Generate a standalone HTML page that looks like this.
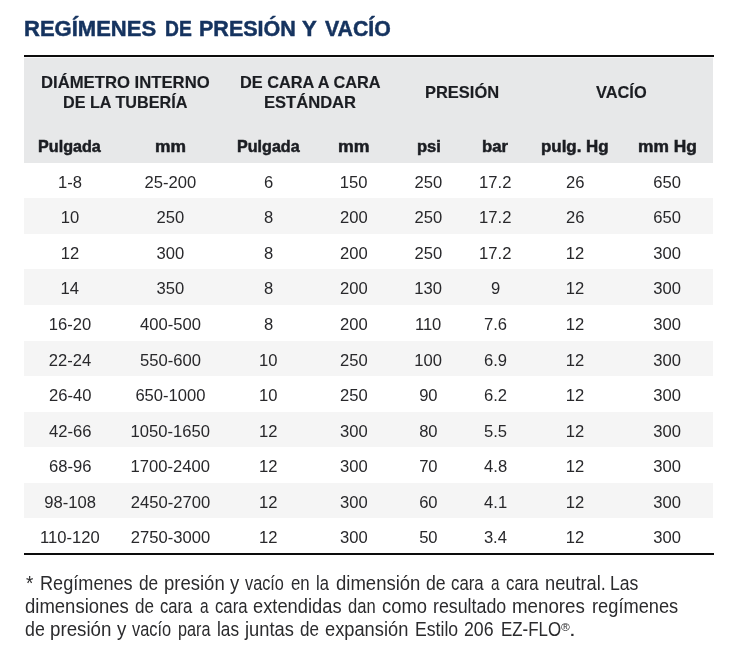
<!DOCTYPE html>
<html lang="es"><head><meta charset="utf-8"><title>Regímenes de presión y vacío</title>
<style>
html,body{margin:0;padding:0;background:#fff;}
body{width:750px;height:651px;position:relative;overflow:hidden;font-family:"Liberation Sans",Arial,sans-serif;color:#222;}
.topline{position:absolute;left:24px;top:55px;width:690px;height:2px;background:#0c0c0c;}
.botline{position:absolute;left:24px;top:553px;width:690px;height:2px;background:#0c0c0c;}
.hdr{position:absolute;left:24px;top:57px;width:689px;height:105px;background:#e7e8e9;border-top:1px solid #f6f6f7;}
.row{position:absolute;left:24px;width:689px;}
.alt{background:#f5f5f5;}
.f{position:absolute;white-space:nowrap;transform-origin:0 0;margin:0;}
.t{font-weight:bold;font-size:22.0px;line-height:28px;color:#15335f;-webkit-text-stroke:0.5px #15335f;}
.g{font-weight:bold;font-size:15.9px;line-height:20px;color:#1b1d22;-webkit-text-stroke:0.15px #1b1d22;}
.s{font-weight:bold;font-size:16.2px;line-height:20px;color:#1b1d22;-webkit-text-stroke:0.5px #1b1d22;}
.n{font-size:19.3px;line-height:23px;color:#2b2b2d;}
.r{font-size:11.2px;line-height:12px;color:#2b2b2d;}
.d{font-size:16.6px;line-height:20px;color:#28282b;}
</style></head><body>
<div class="topline"></div>
<div class="hdr"></div>
<div class="row" style="top:163px;height:35px"></div>
<div class="row alt" style="top:198px;height:36px"></div>
<div class="row" style="top:234px;height:35px"></div>
<div class="row alt" style="top:269px;height:36px"></div>
<div class="row" style="top:305px;height:36px"></div>
<div class="row alt" style="top:341px;height:35px"></div>
<div class="row" style="top:376px;height:36px"></div>
<div class="row alt" style="top:412px;height:35px"></div>
<div class="row" style="top:447px;height:36px"></div>
<div class="row alt" style="top:483px;height:35px"></div>
<div class="row" style="top:518px;height:35px"></div>
<div class="botline"></div>
<h1 style="margin:0;font-size:inherit;font-weight:inherit">
<span class="f t" style="left:24.35px;top:14.55px;transform:scaleX(1.0004)">REGÍMENES</span>
<span class="f t" style="left:164.60px;top:14.55px;transform:scaleX(0.8765)">DE</span>
<span class="f t" style="left:199.08px;top:14.55px;transform:scaleX(0.9782)">PRESIÓN</span>
<span class="f t" style="left:302.40px;top:14.55px;transform:scaleX(1.0069)">Y</span>
<span class="f t" style="left:325.00px;top:14.55px;transform:scaleX(0.9665)">VACÍO</span>
</h1>
<div class="f g" style="left:40.85px;top:73.00px;transform:scaleX(1.0497)">DIÁMETRO INTERNO</div>
<div class="f g" style="left:62.68px;top:92.90px;transform:scaleX(1.0186)">DE LA TUBERÍA</div>
<div class="f g" style="left:239.77px;top:73.00px;transform:scaleX(1.0273)">DE CARA A CARA</div>
<div class="f g" style="left:264.26px;top:92.90px;transform:scaleX(1.0425)">ESTÁNDAR</div>
<div class="f g" style="left:425.26px;top:82.90px;transform:scaleX(1.0360)">PRESIÓN</div>
<div class="f g" style="left:596.00px;top:82.90px;transform:scaleX(1.0309)">VACÍO</div>
<div class="f s" style="left:37.95px;top:136.35px;transform:scaleX(0.9984)">Pulgada</div>
<div class="f s" style="left:155.19px;top:136.35px;transform:scaleX(1.0752)">mm</div>
<div class="f s" style="left:236.55px;top:136.35px;transform:scaleX(0.9952)">Pulgada</div>
<div class="f s" style="left:337.88px;top:136.35px;transform:scaleX(1.0936)">mm</div>
<div class="f s" style="left:416.53px;top:136.35px;transform:scaleX(1.0207)">psi</div>
<div class="f s" style="left:481.93px;top:136.35px;transform:scaleX(1.0327)">bar</div>
<div class="f s" style="left:541.22px;top:136.35px;transform:scaleX(1.0451)">pulg. Hg</div>
<div class="f s" style="left:638.00px;top:136.35px;transform:scaleX(1.0723)">mm Hg</div>
<p style="margin:0">
<span class="f n" style="left:26.16px;top:572.40px;transform:scaleX(0.9714)">*</span>
<span class="f n" style="left:39.89px;top:572.40px;transform:scaleX(0.9399)">Regímenes</span>
<span class="f n" style="left:138.83px;top:572.40px;transform:scaleX(0.8962)">de</span>
<span class="f n" style="left:163.80px;top:572.40px;transform:scaleX(0.9597)">presión</span>
<span class="f n" style="left:230.20px;top:572.40px;transform:scaleX(0.9579)">y</span>
<span class="f n" style="left:245.49px;top:572.40px;transform:scaleX(0.8444)">vacío</span>
<span class="f n" style="left:291.35px;top:572.40px;transform:scaleX(0.8718)">en</span>
<span class="f n" style="left:316.13px;top:572.40px;transform:scaleX(0.8582)">la</span>
<span class="f n" style="left:335.88px;top:572.40px;transform:scaleX(0.9605)">dimensión</span>
<span class="f n" style="left:426.01px;top:572.40px;transform:scaleX(0.9165)">de</span>
<span class="f n" style="left:451.05px;top:572.40px;transform:scaleX(0.8707)">cara</span>
<span class="f n" style="left:491.21px;top:572.40px;transform:scaleX(0.7900)">a</span>
<span class="f n" style="left:505.95px;top:572.40px;transform:scaleX(0.8707)">cara</span>
<span class="f n" style="left:545.02px;top:572.40px;transform:scaleX(0.9469)">neutral.</span>
<span class="f n" style="left:610.43px;top:572.40px;transform:scaleX(0.9138)">Las</span>
<span class="f n" style="left:24.58px;top:595.20px;transform:scaleX(0.9593)">dimensiones</span>
<span class="f n" style="left:134.54px;top:595.20px;transform:scaleX(0.8861)">de</span>
<span class="f n" style="left:159.95px;top:595.20px;transform:scaleX(0.8626)">cara</span>
<span class="f n" style="left:199.80px;top:595.20px;transform:scaleX(0.8000)">a</span>
<span class="f n" style="left:214.65px;top:595.20px;transform:scaleX(0.8680)">cara</span>
<span class="f n" style="left:252.89px;top:595.20px;transform:scaleX(0.9493)">extendidas</span>
<span class="f n" style="left:347.76px;top:595.20px;transform:scaleX(0.8595)">dan</span>
<span class="f n" style="left:381.78px;top:595.20px;transform:scaleX(0.9560)">como</span>
<span class="f n" style="left:432.55px;top:595.20px;transform:scaleX(0.9230)">resultado</span>
<span class="f n" style="left:512.39px;top:595.20px;transform:scaleX(0.9712)">menores</span>
<span class="f n" style="left:592.32px;top:595.20px;transform:scaleX(0.9468)">regímenes</span>
<span class="f n" style="left:24.61px;top:618.20px;transform:scaleX(0.9215)">de</span>
<span class="f n" style="left:49.79px;top:618.20px;transform:scaleX(0.9712)">presión</span>
<span class="f n" style="left:117.00px;top:618.20px;transform:scaleX(0.9684)">y</span>
<span class="f n" style="left:132.39px;top:618.20px;transform:scaleX(0.8489)">vacío</span>
<span class="f n" style="left:178.15px;top:618.20px;transform:scaleX(0.8403)">para</span>
<span class="f n" style="left:216.88px;top:618.20px;transform:scaleX(0.8923)">las</span>
<span class="f n" style="left:245.48px;top:618.20px;transform:scaleX(0.9502)">juntas</span>
<span class="f n" style="left:300.14px;top:618.20px;transform:scaleX(0.8861)">de</span>
<span class="f n" style="left:325.29px;top:618.20px;transform:scaleX(0.9477)">expansión</span>
<span class="f n" style="left:414.63px;top:618.20px;transform:scaleX(0.9162)">Estilo</span>
<span class="f n" style="left:463.58px;top:618.20px;transform:scaleX(0.9190)">206</span>
<span class="f n" style="left:500.58px;top:618.20px;transform:scaleX(0.8770)">EZ-FLO</span>
<span class="f r" style="left:561.23px;top:620.60px;transform:scaleX(1.0710)">®</span>
<span class="f n" style="left:568.70px;top:618.20px;transform:scaleX(1.2571)">.</span>
</p>
<div class="f d" style="left:57.95px;top:173.30px">1-8</div>
<div class="f d" style="left:144.62px;top:173.30px">25-200</div>
<div class="f d" style="left:263.88px;top:173.30px">6</div>
<div class="f d" style="left:339.68px;top:173.30px">150</div>
<div class="f d" style="left:414.52px;top:173.30px">250</div>
<div class="f d" style="left:479.12px;top:173.30px">17.2</div>
<div class="f d" style="left:565.95px;top:173.30px">26</div>
<div class="f d" style="left:653.33px;top:173.30px">650</div>
<div class="f d" style="left:60.70px;top:208.30px">10</div>
<div class="f d" style="left:156.62px;top:208.30px">250</div>
<div class="f d" style="left:263.88px;top:208.30px">8</div>
<div class="f d" style="left:339.93px;top:208.30px">200</div>
<div class="f d" style="left:414.52px;top:208.30px">250</div>
<div class="f d" style="left:479.12px;top:208.30px">17.2</div>
<div class="f d" style="left:565.95px;top:208.30px">26</div>
<div class="f d" style="left:653.33px;top:208.30px">650</div>
<div class="f d" style="left:60.70px;top:244.30px">12</div>
<div class="f d" style="left:156.62px;top:244.30px">300</div>
<div class="f d" style="left:263.88px;top:244.30px">8</div>
<div class="f d" style="left:339.93px;top:244.30px">200</div>
<div class="f d" style="left:414.52px;top:244.30px">250</div>
<div class="f d" style="left:479.12px;top:244.30px">17.2</div>
<div class="f d" style="left:565.70px;top:244.30px">12</div>
<div class="f d" style="left:653.33px;top:244.30px">300</div>
<div class="f d" style="left:60.58px;top:279.30px">14</div>
<div class="f d" style="left:156.62px;top:279.30px">350</div>
<div class="f d" style="left:263.88px;top:279.30px">8</div>
<div class="f d" style="left:339.93px;top:279.30px">200</div>
<div class="f d" style="left:414.27px;top:279.30px">130</div>
<div class="f d" style="left:490.88px;top:279.30px">9</div>
<div class="f d" style="left:565.70px;top:279.30px">12</div>
<div class="f d" style="left:653.33px;top:279.30px">300</div>
<div class="f d" style="left:48.70px;top:315.30px">16-20</div>
<div class="f d" style="left:140.12px;top:315.30px">400-500</div>
<div class="f d" style="left:263.88px;top:315.30px">8</div>
<div class="f d" style="left:339.93px;top:315.30px">200</div>
<div class="f d" style="left:414.90px;top:315.30px">110</div>
<div class="f d" style="left:484.00px;top:315.30px">7.6</div>
<div class="f d" style="left:565.70px;top:315.30px">12</div>
<div class="f d" style="left:653.33px;top:315.30px">300</div>
<div class="f d" style="left:48.83px;top:351.30px">22-24</div>
<div class="f d" style="left:140.00px;top:351.30px">550-600</div>
<div class="f d" style="left:259.00px;top:351.30px">10</div>
<div class="f d" style="left:339.93px;top:351.30px">250</div>
<div class="f d" style="left:414.27px;top:351.30px">100</div>
<div class="f d" style="left:484.00px;top:351.30px">6.9</div>
<div class="f d" style="left:565.70px;top:351.30px">12</div>
<div class="f d" style="left:653.33px;top:351.30px">300</div>
<div class="f d" style="left:48.95px;top:386.30px">26-40</div>
<div class="f d" style="left:135.38px;top:386.30px">650-1000</div>
<div class="f d" style="left:259.00px;top:386.30px">10</div>
<div class="f d" style="left:339.93px;top:386.30px">250</div>
<div class="f d" style="left:419.15px;top:386.30px">90</div>
<div class="f d" style="left:484.00px;top:386.30px">6.2</div>
<div class="f d" style="left:565.70px;top:386.30px">12</div>
<div class="f d" style="left:653.33px;top:386.30px">300</div>
<div class="f d" style="left:49.08px;top:422.30px">42-66</div>
<div class="f d" style="left:130.50px;top:422.30px">1050-1650</div>
<div class="f d" style="left:259.00px;top:422.30px">12</div>
<div class="f d" style="left:339.93px;top:422.30px">300</div>
<div class="f d" style="left:419.15px;top:422.30px">80</div>
<div class="f d" style="left:484.00px;top:422.30px">5.5</div>
<div class="f d" style="left:565.70px;top:422.30px">12</div>
<div class="f d" style="left:653.33px;top:422.30px">300</div>
<div class="f d" style="left:48.95px;top:457.30px">68-96</div>
<div class="f d" style="left:130.50px;top:457.30px">1700-2400</div>
<div class="f d" style="left:259.00px;top:457.30px">12</div>
<div class="f d" style="left:339.93px;top:457.30px">300</div>
<div class="f d" style="left:419.15px;top:457.30px">70</div>
<div class="f d" style="left:484.12px;top:457.30px">4.8</div>
<div class="f d" style="left:565.70px;top:457.30px">12</div>
<div class="f d" style="left:653.33px;top:457.30px">300</div>
<div class="f d" style="left:44.33px;top:493.30px">98-108</div>
<div class="f d" style="left:130.75px;top:493.30px">2450-2700</div>
<div class="f d" style="left:259.00px;top:493.30px">12</div>
<div class="f d" style="left:339.93px;top:493.30px">300</div>
<div class="f d" style="left:419.15px;top:493.30px">60</div>
<div class="f d" style="left:484.12px;top:493.30px">4.1</div>
<div class="f d" style="left:565.70px;top:493.30px">12</div>
<div class="f d" style="left:653.33px;top:493.30px">300</div>
<div class="f d" style="left:40.08px;top:528.30px">110-120</div>
<div class="f d" style="left:130.75px;top:528.30px">2750-3000</div>
<div class="f d" style="left:259.00px;top:528.30px">12</div>
<div class="f d" style="left:339.93px;top:528.30px">300</div>
<div class="f d" style="left:419.15px;top:528.30px">50</div>
<div class="f d" style="left:483.88px;top:528.30px">3.4</div>
<div class="f d" style="left:565.70px;top:528.30px">12</div>
<div class="f d" style="left:653.33px;top:528.30px">300</div>
</body></html>
